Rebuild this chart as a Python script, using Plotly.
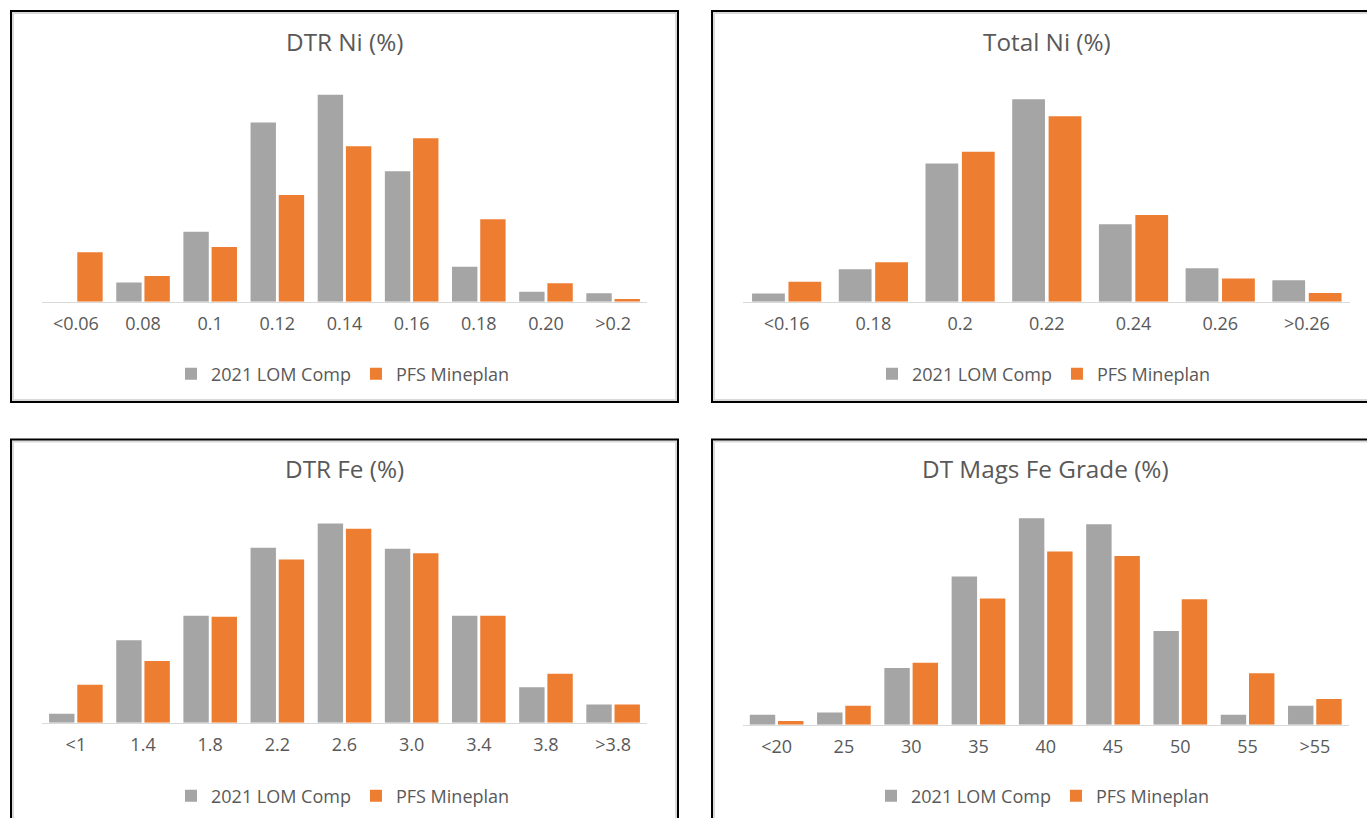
import plotly.graph_objects as go

# Grade distributions (% of tonnes per grade bin)
dtr_ni_bins = ["<0.06", "0.08", "0.1", "0.12", "0.14", "0.16", "0.18", "0.20", ">0.2"]
dtr_ni_lom = [0.0, 2.9, 10.6, 27.2, 31.4, 19.8, 5.3, 1.5, 1.3]
dtr_ni_pfs = [7.5, 3.9, 8.3, 16.2, 23.6, 24.8, 12.5, 2.8, 0.4]

total_ni_bins = ["<0.16", "0.18", "0.2", "0.22", "0.24", "0.26", ">0.26"]
total_ni_lom = [1.6, 6.3, 26.9, 39.4, 15.1, 6.5, 4.2]
total_ni_pfs = [3.9, 7.7, 29.2, 36.1, 16.9, 4.5, 1.7]

dtr_fe_bins = ["<1", "1.4", "1.8", "2.2", "2.6", "3.0", "3.4", "3.8", ">3.8"]
dtr_fe_lom = [1.0, 9.1, 11.8, 19.3, 22.0, 19.2, 11.8, 3.9, 2.0]
dtr_fe_pfs = [4.2, 6.8, 11.7, 18.0, 21.4, 18.7, 11.8, 5.4, 2.0]

mags_fe_bins = ["<20", "25", "30", "35", "40", "45", "50", "55", ">55"]
mags_fe_lom = [1.3, 1.6, 7.5, 19.6, 27.3, 26.5, 12.4, 1.3, 2.5]
mags_fe_pfs = [0.5, 2.5, 8.2, 16.7, 22.9, 22.3, 16.6, 6.8, 3.4]

series_names = ["2021 LOM Comp", "PFS Mineplan"]
series_colors = ["#a5a5a5", "#ed7d31"]

W, H = 1367, 818
FONT = "Open Sans"
TEXT = "#595959"


def px(x):
    return x / W


def py(y):
    return 1 - y / H


# panel: title, bins, lom, pfs, x-extent (px), baseline/top (px), y max, title y, legend (x, y), frame
panels = [
    ("DTR Ni (%)", dtr_ni_bins, dtr_ni_lom, dtr_ni_pfs,
     (42.3, 646.7), (301.7, 71.0), 35, 41.8, (343, 374),
     (11, 678, 11, 402)),
    ("Total Ni (%)", total_ni_bins, total_ni_lom, total_ni_pfs,
     (743.3, 1350.3), (301.7, 70.6), 45, 41.8, (1044, 374),
     (712, 1400, 11, 402)),
    ("DTR Fe (%)", dtr_fe_bins, dtr_fe_lom, dtr_fe_pfs,
     (42.3, 646.7), (722.7, 496.2), 25, 468, (343, 796),
     (11, 678, 439.5, 860)),
    ("DT Mags Fe Grade (%)", mags_fe_bins, mags_fe_lom, mags_fe_pfs,
     (743.0, 1348.5), (724.7, 497.9), 30, 468, (1043, 796),
     (712, 1400, 439.5, 860)),
]

fig = go.Figure()
layout = {}
annotations = []
shapes = []

for i, (title, bins, lom, pfs, xext, yext, ymax, ty, leg, box) in enumerate(panels, start=1):
    sfx = "" if i == 1 else str(i)
    leg_id = "legend" if i == 1 else f"legend{i}"
    for name, vals, color in zip(series_names, [lom, pfs], series_colors):
        fig.add_trace(go.Bar(
            x=bins, y=vals, name=name,
            marker=dict(color=color, line=dict(width=0)),
            xaxis=f"x{sfx}", yaxis=f"y{sfx}",
            legend=leg_id,
        ))

    layout[f"xaxis{sfx}"] = dict(
        domain=[px(xext[0]), px(xext[1])],
        anchor=f"y{sfx}",
        type="category",
        showline=True, linecolor="#d9d9d9", linewidth=1,
        showgrid=False, zeroline=False, ticks="",
        tickfont=dict(family=FONT, size=18, color=TEXT),
        ticklabelstandoff=6,
        fixedrange=True,
    )
    layout[f"yaxis{sfx}"] = dict(
        domain=[py(yext[0]), py(yext[1])],
        anchor=f"x{sfx}",
        range=[0, ymax],
        visible=False, showgrid=False, zeroline=False,
        fixedrange=True,
    )
    layout[leg_id] = dict(
        orientation="h",
        x=px(leg[0]), y=py(leg[1]),
        xanchor="center", yanchor="middle",
        xref="paper", yref="paper",
        font=dict(family=FONT, size=18, color=TEXT),
        bgcolor="rgba(0,0,0,0)",
        itemclick=False, itemdoubleclick=False,
    )
    annotations.append(dict(
        text=title, showarrow=False,
        x=px((xext[0] + xext[1]) / 2), y=py(ty),
        xref="paper", yref="paper",
        xanchor="center", yanchor="middle",
        font=dict(family=FONT, size=24.3, color=TEXT),
    ))
    x0, x1, y0, y1 = box
    # outer frame with a soft inner edge
    shapes.append(dict(type="rect", xref="paper", yref="paper",
                       x0=px(x0 + 2), x1=px(x1 - 2), y0=py(y1 - 2), y1=py(y0 + 2),
                       line=dict(color="#d9d9d9", width=2)))
    shapes.append(dict(type="rect", xref="paper", yref="paper",
                       x0=px(x0), x1=px(x1), y0=py(y1), y1=py(y0),
                       line=dict(color="#000000", width=2)))

fig.update_layout(
    width=W, height=H,
    autosize=False,
    margin=dict(l=0, r=0, t=0, b=0),
    paper_bgcolor="white",
    plot_bgcolor="white",
    barmode="group",
    bargap=0.16,
    bargroupgap=0.1,
    annotations=annotations,
    shapes=shapes,
    font=dict(family=FONT, color=TEXT),
    **layout,
)

fig.write_html("out.html", config={"displayModeBar": False})
